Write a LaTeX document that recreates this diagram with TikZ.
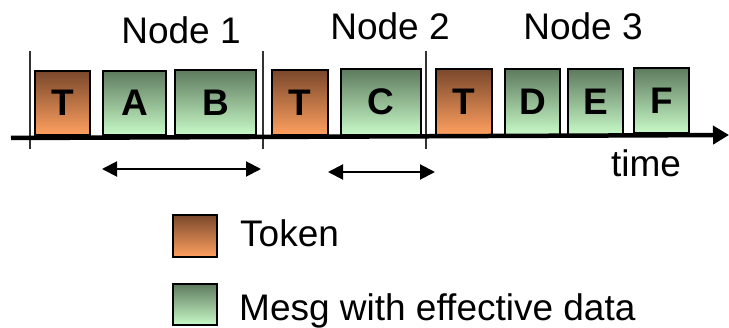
\documentclass[tikz,border=0pt]{standalone}
\usepackage{fontspec}
\setmainfont{Liberation Sans}
\usetikzlibrary{arrows.meta}
\definecolor{tokentop}{RGB}{122,72,44}
\definecolor{tokenbot}{RGB}{255,160,96}
\definecolor{msgtop}{RGB}{94,122,94}
\definecolor{msgbot}{RGB}{200,250,200}
\begin{document}
\begin{tikzpicture}[x=1pt,y=-1pt,
  slot/.style={draw=black, line width=2pt, inner sep=0pt,
    font=\fontsize{37}{40}\selectfont\bfseries},
  token/.style={slot, top color=tokentop, bottom color=tokenbot},
  mesg/.style={slot, top color=msgtop, bottom color=msgbot},
  label/.style={font=\fontsize{37}{40}\selectfont, inner sep=0pt},
  tick/.style={draw=black!80, line width=1.5pt},
  span/.style={line width=2pt, {Triangle[length=15pt,width=15pt]}-{Triangle[length=15pt,width=15pt]}}]
\useasboundingbox (0,0) rectangle (729,328);

% frames on the time line
\node[token, minimum width=55pt, minimum height=64pt] (t1) at (62.5,103) {T};
\node[mesg,  minimum width=63pt, minimum height=64pt] (a)  at (134.5,103) {A};
\node[mesg,  minimum width=81pt, minimum height=65pt] (b)  at (215.5,102.5) {B};
\node[token, minimum width=56pt, minimum height=65pt] (t2) at (300,102.5) {T};
\node[mesg,  minimum width=80pt, minimum height=66pt] (c)  at (381,102) {C};
\node[token, minimum width=56pt, minimum height=66pt] (t3) at (464,102) {T};
\node[mesg,  minimum width=55pt, minimum height=66pt] (d)  at (532.5,102) {D};
\node[mesg,  minimum width=55pt, minimum height=66pt] (e)  at (595.5,102) {E};
\node[mesg,  minimum width=55pt, minimum height=65pt] (f)  at (661.5,100.5) {F};

% node boundaries
\coordinate (k1a) at (30,51);  \coordinate (k1b) at (30,149);
\coordinate (k2a) at (263,51); \coordinate (k2b) at (263,149);
\coordinate (k3a) at (426,51); \coordinate (k3b) at (426,149);
\draw[tick] (k1a) -- (k1b);
\draw[tick] (k2a) -- (k2b);
\draw[tick] (k3a) -- (k3b);

% time axis
\coordinate (ts) at (11,138);
\coordinate (te) at (729,135);
\draw[line width=4.5pt, -{Triangle[length=16pt,width=18pt]}] (ts) -- (te);

% spans
\coordinate (s1a) at (102,169); \coordinate (s1b) at (261,169);
\coordinate (s2a) at (328,172); \coordinate (s2b) at (435,172);
\draw[span] (s1a) -- (s1b);
\draw[span] (s2a) -- (s2b);

% labels
\node[label, anchor=base] (n1) at (181,44) {Node 1};
\node[label, anchor=base] (n2) at (390,40) {Node 2};
\node[label, anchor=base] (n3) at (583,40) {Node 3};
\node[label, anchor=base] (tm) at (646,177) {time};

% legend
\node[token, minimum width=44pt, minimum height=42pt] (lt) at (195,236) {};
\node[label, anchor=base west] (ltt) at (240,247) {Token};
\node[mesg, minimum width=44pt, minimum height=41pt] (lm) at (195,304.5) {};
\node[label, anchor=base west] (lmt) at (239,321) {Mesg with effective data};
\end{tikzpicture}
\end{document}
